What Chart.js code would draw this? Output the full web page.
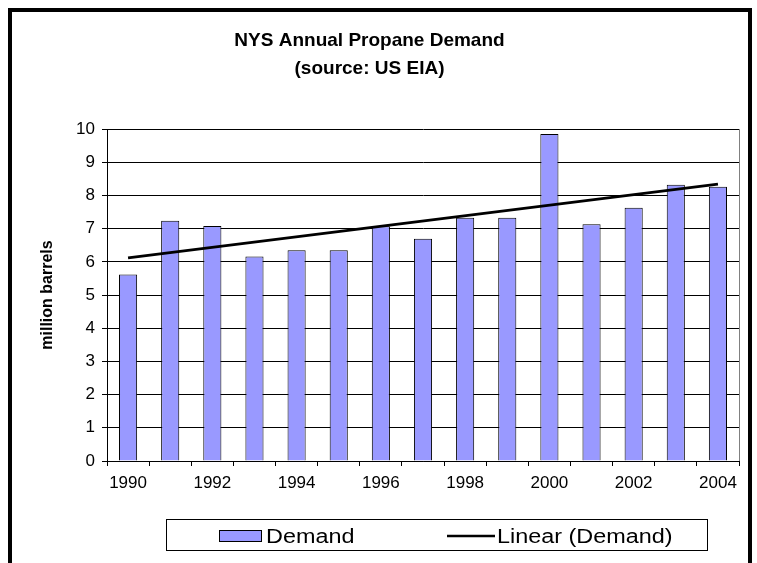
<!DOCTYPE html>
<html>
<head>
<meta charset="utf-8">
<script src="https://cdn.jsdelivr.net/npm/chart.js@4.4.0/dist/chart.umd.min.js"></script>
<style>
  html, body { margin: 0; padding: 0; background: #fff; }
  canvas { display: block; }
</style>
</head>
<body>
<canvas id="demandChart" width="757" height="563"></canvas>
<script>
// data
const years = ["1990", "1991", "1992", "1993", "1994", "1995", "1996", "1997",
               "1998", "1999", "2000", "2001", "2002", "2003", "2004"];
const demand = [5.62, 7.24, 7.08, 6.16, 6.35, 6.35, 7.07, 6.70,
                7.33, 7.33, 9.85, 7.13, 7.63, 8.32, 8.26];
// trendline end points (Linear (Demand)), first and last year
const trendYears = ["1990", "2004"];
const trendValues = [6.12, 8.34];
// only every other year is labelled on the x axis
const shownYears = ["1990", "1992", "1994", "1996", "1998", "2000", "2002", "2004"];
const yMin = 0, yMax = 10, yStep = 1;

const FONT = "'Liberation Sans', Arial, sans-serif";

// white background and the thick outer frame
const framePlugin = {
    id: "frame",
    beforeDraw(chart) {
        const ctx = chart.ctx;
        ctx.save();
        ctx.fillStyle = "#fff";
        ctx.fillRect(0, 0, chart.width, chart.height);
        ctx.restore();
    },
    afterDraw(chart) {
        const ctx = chart.ctx;
        ctx.save();
        ctx.strokeStyle = "#000";
        ctx.lineWidth = 4;
        ctx.strokeRect(10, 10, 740, 620);
        ctx.restore();
    }
};

// grey right edge of the plot area
const plotEdgePlugin = {
    id: "plotEdge",
    beforeDatasetsDraw(chart) {
        const { ctx, chartArea } = chart;
        ctx.save();
        ctx.strokeStyle = "#808080";
        ctx.lineWidth = 1;
        ctx.beginPath();
        ctx.moveTo(Math.round(chartArea.right) + 0.5, chartArea.top);
        ctx.lineTo(Math.round(chartArea.right) + 0.5, chartArea.bottom);
        ctx.stroke();
        ctx.restore();
    }
};

// the Excel text is drawn a bit wide, so stretch legend text sideways
function wideText(ctx, text, x, y, sx) {
    ctx.save();
    ctx.translate(x, y);
    ctx.scale(sx, 1);
    ctx.fillText(text, 0, 0);
    ctx.restore();
}

// boxed legend under the axis, Excel style
const boxLegendPlugin = {
    id: "boxLegend",
    afterDraw(chart) {
        const ctx = chart.ctx;
        const midY = 536;
        ctx.save();
        ctx.strokeStyle = "#000";
        ctx.lineWidth = 1;
        ctx.strokeRect(166.5, 519.5, 541, 31);

        const bar = chart.data.datasets[1];
        ctx.fillStyle = bar.backgroundColor;
        ctx.fillRect(219, midY - 5, 42, 11);
        ctx.strokeRect(219.5, midY - 5.5, 42, 11);

        ctx.font = "20px " + FONT;
        ctx.fillStyle = "#000";
        ctx.textBaseline = "middle";
        ctx.textAlign = "left";
        wideText(ctx, bar.label, 266, midY + 1, 1.17);

        const trend = chart.data.datasets[0];
        ctx.lineWidth = 2.5;
        ctx.beginPath();
        ctx.moveTo(447, midY);
        ctx.lineTo(495, midY);
        ctx.stroke();
        wideText(ctx, trend.label, 497, midY + 1, 1.17);
        ctx.restore();
    }
};

const ctx = document.getElementById("demandChart").getContext("2d");

new Chart(ctx, {
    data: {
        labels: years,
        datasets: [
            {
                type: "line",
                label: "Linear (Demand)",
                data: trendYears.map((y, i) => ({ x: y, y: trendValues[i] })),
                borderColor: "#000",
                borderWidth: 2.8,
                pointRadius: 0,
                tension: 0,
                fill: false,
                order: 0
            },
            {
                type: "bar",
                label: "Demand",
                data: demand,
                backgroundColor: "#9999FF",
                borderColor: "#000",
                borderWidth: 1,
                categoryPercentage: 1,
                barPercentage: 0.43,
                order: 1
            }
        ]
    },
    options: {
        responsive: false,
        animation: false,
        devicePixelRatio: 1,
        layout: { padding: { top: 0, left: 0, right: 18, bottom: 0 } },
        plugins: {
            legend: { display: false },
            tooltip: { enabled: false },
            title: {
                display: true,
                text: ["NYS Annual Propane Demand", "(source: US EIA)"],
                color: "#000",
                font: { family: FONT, size: 19, weight: "bold", lineHeight: 1.45 },
                padding: { top: 27, bottom: 47 }
            }
        },
        scales: {
            x: {
                type: "category",
                offset: true,
                grid: {
                    offset: true,
                    drawOnChartArea: false,
                    drawTicks: true,
                    tickLength: 5,
                    color: "#000"
                },
                border: { display: true, color: "#000", width: 1 },
                ticks: {
                    autoSkip: false,
                    maxRotation: 0,
                    minRotation: 0,
                    padding: 7,
                    color: "#000",
                    font: { family: FONT, size: 17 },
                    callback: (v, i) => shownYears.includes(years[i]) ? years[i] : ""
                },
                afterFit(scale) { scale.height = 102; }
            },
            y: {
                min: yMin,
                max: yMax,
                grid: { color: "#000", lineWidth: 1, tickLength: 5 },
                border: { display: true, color: "#000", width: 1 },
                ticks: {
                    stepSize: yStep,
                    padding: 7,
                    color: "#000",
                    font: { family: FONT, size: 17 }
                },
                title: {
                    display: true,
                    text: "million barrels",
                    color: "#000",
                    font: { family: FONT, size: 16, weight: "bold" },
                    padding: { top: 38, bottom: 0 }
                },
                afterFit(scale) { scale.width = 107; }
            }
        }
    },
    plugins: [framePlugin, plotEdgePlugin, boxLegendPlugin]
});
</script>
</body>
</html>
